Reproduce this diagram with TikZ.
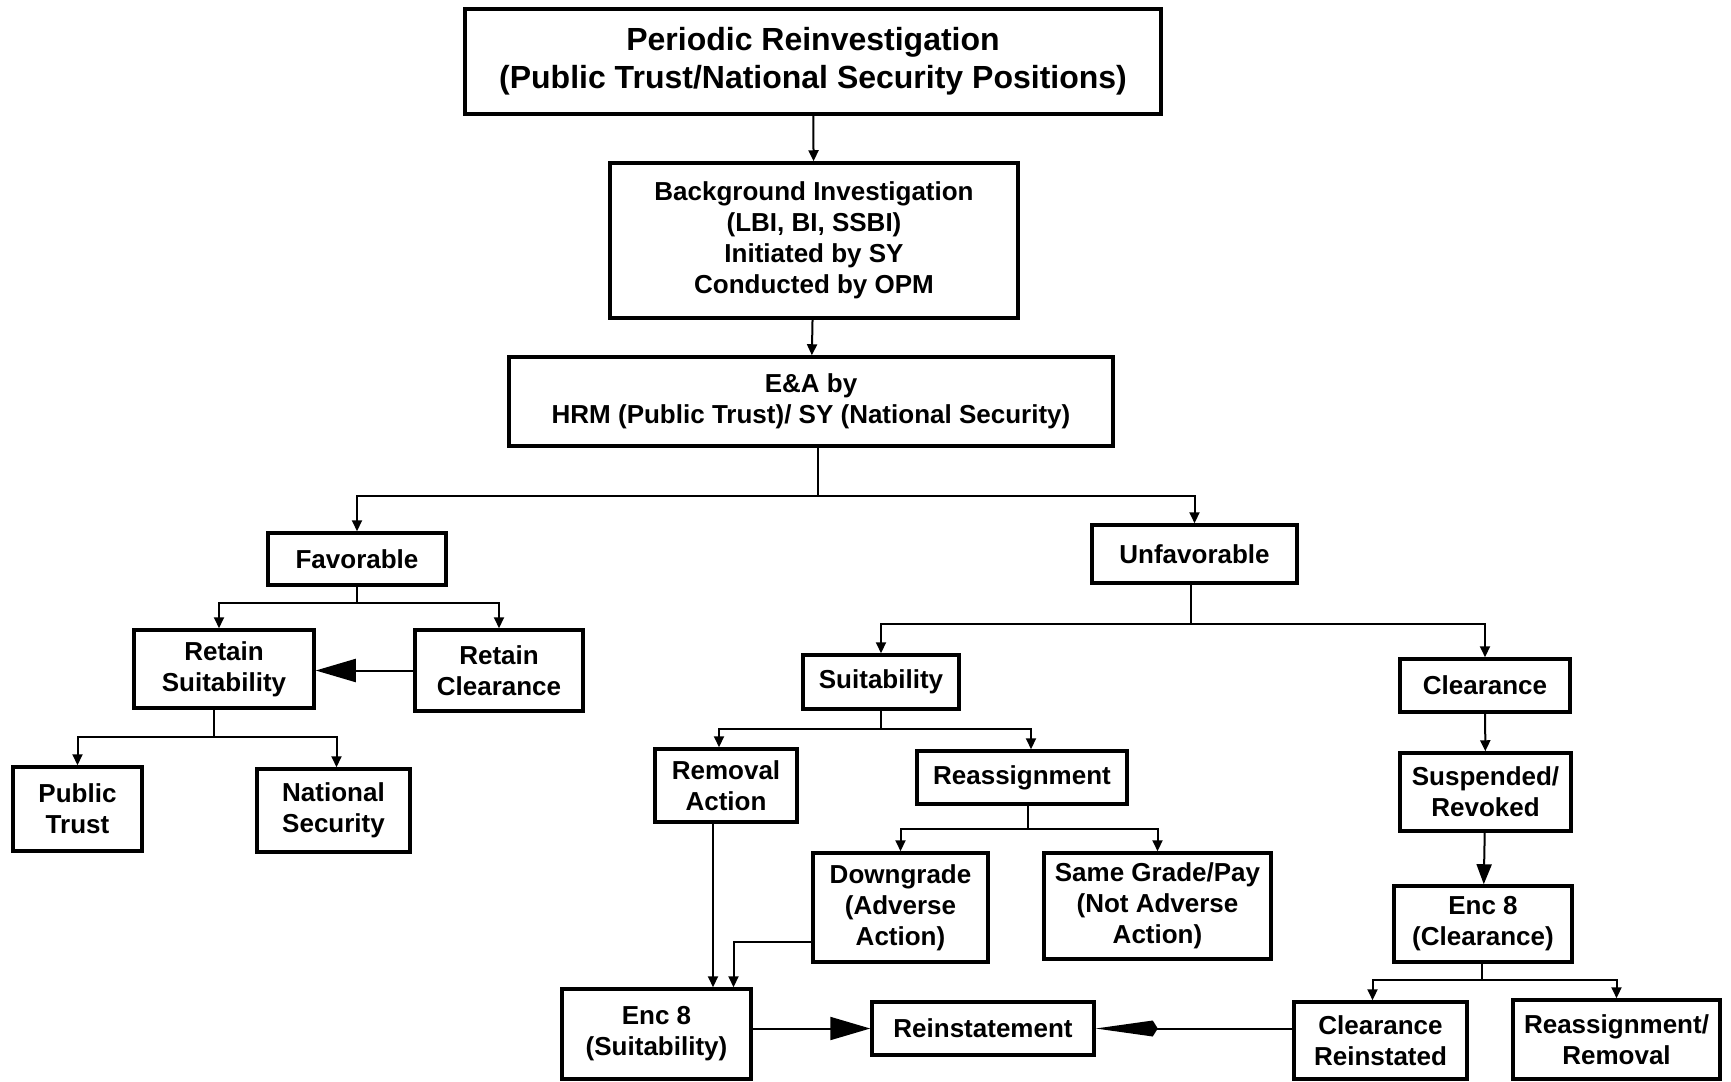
\documentclass[tikz,border=0pt]{standalone}
\usepackage{fontspec}
\setmainfont{Liberation Sans}
\usepackage{tikz}
\usetikzlibrary{arrows.meta}
\usetikzlibrary{positioning}

\tikzset{
	box/.style={draw, line width=3.5pt, align=center, inner sep=0pt, font=\bfseries\fontsize{26}{31}\selectfont},
	link/.style={line width=2pt, -{Triangle[length=11pt,width=10pt]}},
	bigtip/.style={line width=2pt, -{Triangle[length=40pt,width=23pt]}},
	kitetip/.style={line width=2pt, -{Kite[length=62pt,width=16pt,inset=5pt]}}
}

\begin{document}
\begin{tikzpicture}[x=1pt, y=-1pt]
		\useasboundingbox (0,0) rectangle (1731,1081);
		\node[box, minimum width=696pt, minimum height=105pt, font=\bfseries\fontsize{32}{38}\selectfont] (top) at (813,61.5) {Periodic Reinvestigation\\(Public Trust/National Security Positions)};
		\node[box, minimum width=408pt, minimum height=155pt] (bi) at (814,240.5) {Background Investigation\\(LBI, BI, SSBI)\\Initiated by SY\\Conducted by OPM};
		\node[box, minimum width=604pt, minimum height=89pt] (ea) at (811,401.5) {E\&A by\\HRM (Public Trust)/ SY (National Security)};
		\node[box, minimum width=178pt, minimum height=52pt] (fav) at (357,559) {Favorable};
		\node[box, minimum width=205pt, minimum height=58pt] (unfav) at (1194.5,554) {Unfavorable};
		\node[box, minimum width=180pt, minimum height=78pt] (rsuit) at (224,669) {Retain\\Suitability};
		\node[box, minimum width=168pt, minimum height=81pt] (rclear) at (499,670.5) {Retain\\Clearance};
		\node[box, minimum width=129pt, minimum height=84pt] (ptrust) at (77.5,809) {Public\\Trust};
		\node[box, minimum width=153pt, minimum height=83pt] (nsec) at (333.5,810.5) {National\\Security};
		\node[box, minimum width=156pt, minimum height=54pt] (suit) at (881,682) {Suitability};
		\node[box, minimum width=170pt, minimum height=53pt] (clear) at (1485,685.5) {Clearance};
		\node[box, minimum width=142pt, minimum height=73pt] (remov) at (726,785.5) {Removal\\Action};
		\node[box, minimum width=210pt, minimum height=53pt] (reass) at (1022,777.5) {Reassignment};
		\node[box, minimum width=175pt, minimum height=109pt] (down) at (900.5,907.5) {Downgrade\\(Adverse\\Action)};
		\node[box, minimum width=227pt, minimum height=106pt] (same) at (1157.5,906) {Same Grade/Pay\\(Not Adverse\\Action)};
		\node[box, minimum width=171pt, minimum height=78pt] (susp) at (1485.5,792) {Suspended/\\Revoked};
		\node[box, minimum width=178pt, minimum height=76pt] (enc8c) at (1483,924) {Enc 8\\(Clearance)};
		\node[box, minimum width=189pt, minimum height=90pt] (enc8s) at (656.5,1034) {Enc 8\\(Suitability)};
		\node[box, minimum width=222pt, minimum height=53pt] (reinst) at (983,1028.5) {Reinstatement};
		\node[box, minimum width=173pt, minimum height=77pt] (clrein) at (1380.5,1040.5) {Clearance\\Reinstated};
		\node[box, minimum width=207pt, minimum height=79pt] (rr) at (1616.5,1039.5) {Reassignment/\\Removal};

		\coordinate (eajoin) at (818,496);
		\coordinate (favjoin) at (357,603);
		\coordinate (rsjoin) at (214,737);
		\coordinate (unjoin) at (1191,624);
		\coordinate (sujoin) at (881,729);
		\coordinate (rejoin) at (1028,829);
		\coordinate (ecjoin) at (1482,980);

		\draw[link] (top) -- (bi);
		\draw[link] (bi) -- (ea);
		\draw[line width=2pt] (ea.south -| eajoin) -- (eajoin);
		\draw[link] (eajoin) -| (fav.north);
		\draw[link] (eajoin) -| (unfav.north);
		\draw[line width=2pt] (fav.south) -- (favjoin);
		\draw[link] (favjoin) -| ([xshift=-5pt]rsuit.north);
		\draw[link] (favjoin) -| (rclear.north);
		\draw[bigtip] (rclear.west |- rclear) -- (rsuit.east |- rclear);
		\draw[line width=2pt] (rsuit.south -| rsjoin) -- (rsjoin);
		\draw[link] (rsjoin) -| (ptrust.north);
		\draw[link] (rsjoin) -| ([xshift=3pt]nsec.north);
		\draw[line width=2pt] (unfav.south -| unjoin) -- (unjoin);
		\draw[link] (unjoin) -| (suit.north);
		\draw[link] (unjoin) -| (clear.north);
		\draw[line width=2pt] (suit.south) -- (sujoin);
		\draw[link] (sujoin) -| ([xshift=-7pt]remov.north);
		\draw[link] (sujoin) -| ([xshift=9pt]reass.north);
		\draw[line width=2pt] (reass.south -| rejoin) -- (rejoin);
		\draw[link] (rejoin) -| (down.north);
		\draw[link] (rejoin) -| (same.north);
		\draw[link] ([xshift=-13pt]remov.south) -- ([xshift=-13pt]remov.south |- enc8s.north);
		\draw[link] ([yshift=-34pt]down.west) -| ([xshift=77pt]enc8s.north);
		\draw[bigtip] (enc8s.east |- reinst) -- (reinst.west);
		\draw[kitetip] (clrein.west |- reinst) -- (reinst.east);
		\draw[link] (clear) -- (susp);
		\draw[line width=2pt, -{Triangle[length=20pt,width=15pt]}] (susp) -- (enc8c);
		\draw[line width=2pt] (enc8c.south -| ecjoin) -- (ecjoin);
		\draw[link] (ecjoin) -| ([xshift=-8pt]clrein.north);
		\draw[link] (ecjoin) -| (rr.north);
	\end{tikzpicture}
\end{document}
